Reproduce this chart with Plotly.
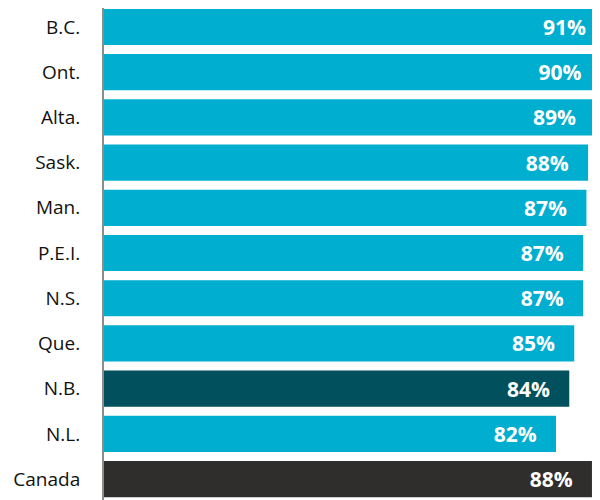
import plotly.graph_objects as go

regions = ["B.C.", "Ont.", "Alta.", "Sask.", "Man.", "P.E.I.", "N.S.", "Que.", "N.B.", "N.L.", "Canada"]
# bar lengths (percent)
values = [90.6, 89.8, 88.8, 87.5, 87.2, 86.6, 86.6, 85.0, 84.1, 81.7, 88.2]
# labels as printed on the bars
labels = ["91%", "90%", "89%", "88%", "87%", "87%", "87%", "85%", "84%", "82%", "88%"]

CYAN = "#00AECF"
TEAL = "#00505E"
DARK = "#302E2C"
colors = [TEAL if r == "N.B." else DARK if r == "Canada" else CYAN for r in regions]

pad = "\u00a0\u00a0\u00a0"
fig = go.Figure(
    go.Bar(
        y=regions,
        x=values,
        orientation="h",
        marker=dict(color=colors, line=dict(width=0)),
        text=[t + pad for t in labels],
        textposition="inside",
        insidetextanchor="end",
        textangle=0,
        textfont=dict(family="Open Sans", size=21, color="white", weight="bold"),
        cliponaxis=True,
        hoverinfo="skip",
    )
)

fig.update_layout(
    width=600,
    height=500,
    margin=dict(l=96, r=0, t=0, b=0),
    paper_bgcolor="white",
    plot_bgcolor="white",
    bargap=0.2,
    showlegend=False,
    xaxis=dict(
        range=[0, 91.1],
        visible=False,
        showgrid=False,
        zeroline=False,
        fixedrange=True,
    ),
    yaxis=dict(
        range=[10.64, -0.42],
        showline=True,
        linecolor="#8C8C8C",
        linewidth=2,
        ticks="",
        showgrid=False,
        ticklabelstandoff=18,
        tickfont=dict(family="Open Sans", size=19, color="#111111"),
    ),
)

fig.write_html("out.html")
